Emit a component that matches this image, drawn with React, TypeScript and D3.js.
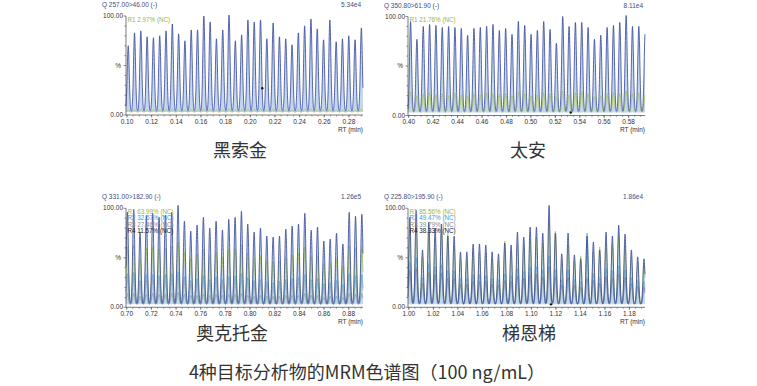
import * as d3 from 'd3';

const W = 757;
const H = 386;

// ---- data ----
// 黑索金 (RDX)
const rdxRange = [0.0992, 0.2914];
const rdxPeakStart = 0.101;
const rdxPeakStep = 0.00511;
const rdxQuant = [67, 80, 82, 76, 75, 77, 82, 89, 79, 72, 83, 83, 97, 91, 74, 83, 98, 72, 78, 93, 91, 93, 74, 90, 76, 74, 68, 80, 87, 94, 84, 73, 93, 71, 74, 77, 73, 85];
const rdxR1 = [2, 2, 3, 2, 2, 2, 3, 3, 2, 2, 3, 2, 3, 3, 2, 2, 3, 2, 2, 3, 3, 3, 2, 3, 2, 2, 2, 2, 3, 3, 2, 2, 3, 2, 2, 2, 2, 3];

// 太安 (PETN)
const petnRange = [0.3994, 0.5934];
const petnPeakStart = 0.4015;
const petnPeakStep = 0.00519;
const petnQuant = [92, 74, 87, 89, 88, 86, 87, 86, 85, 78, 85, 86, 87, 89, 83, 85, 79, 92, 88, 79, 83, 92, 84, 70, 97, 87, 91, 91, 86, 74, 78, 86, 88, 91, 98, 87, 87, 80];
const petnR1 = [21, 17, 19, 20, 18, 19, 17, 20, 18, 17, 19, 18, 20, 19, 18, 19, 17, 21, 19, 17, 18, 20, 19, 16, 22, 18, 20, 21, 19, 16, 17, 19, 20, 19, 22, 19, 20, 18];

// 奥克托金 (HMX)
const hmxRange = [0.6994, 0.8916];
const hmxPeakStart = 0.7005;
const hmxPeakStep = 0.00514;
const hmxQuant = [93, 96, 73, 90, 92, 88, 90, 93, 100, 84, 74, 80, 88, 77, 84, 75, 86, 88, 94, 81, 73, 77, 69, 68, 69, 76, 79, 81, 92, 75, 78, 64, 66, 72, 61, 93, 89, 91];
const hmxR1 = [58, 60, 46, 57, 58, 56, 57, 59, 63, 53, 47, 51, 56, 49, 53, 47, 55, 56, 60, 52, 46, 49, 44, 43, 44, 48, 50, 52, 58, 48, 49, 41, 42, 46, 39, 59, 57, 58];
const hmxR2 = [31, 32, 24, 30, 30, 29, 30, 31, 33, 28, 24, 26, 29, 25, 28, 25, 28, 29, 31, 27, 24, 25, 23, 22, 23, 25, 26, 27, 30, 25, 26, 21, 22, 24, 20, 31, 29, 30];
const hmxR3 = [25, 26, 20, 24, 25, 24, 24, 25, 27, 23, 20, 22, 24, 21, 23, 20, 23, 24, 25, 22, 20, 21, 19, 18, 19, 21, 21, 22, 25, 20, 21, 17, 18, 19, 16, 25, 24, 25];
const hmxR4 = [11, 11, 8, 10, 11, 10, 10, 11, 12, 10, 9, 9, 10, 9, 10, 9, 10, 10, 11, 9, 8, 9, 8, 8, 8, 9, 9, 9, 11, 9, 9, 7, 8, 8, 7, 11, 10, 11];

// 梯恩梯 (TNT)
const tntRange = [0.9993, 1.1927];
const tntPeakStart = 1.0008;
const tntPeakStep = 0.005165;
const tntQuant = [88, 95, 55, 83, 77, 81, 69, 69, 53, 53, 61, 61, 60, 53, 51, 62, 60, 73, 68, 78, 78, 72, 100, 72, 51, 72, 50, 46, 69, 63, 55, 73, 69, 80, 71, 55, 48, 46];
const tntR1 = [75, 80, 48, 72, 68, 78, 72, 60, 46, 45, 54, 52, 52, 46, 44, 64, 53, 62, 60, 66, 68, 62, 85, 74, 44, 60, 44, 49, 62, 54, 58, 62, 60, 70, 60, 48, 42, 40];
const tntR2 = [43, 47, 27, 41, 38, 40, 34, 34, 26, 26, 30, 30, 29, 26, 25, 31, 29, 36, 33, 38, 38, 35, 49, 35, 25, 35, 25, 23, 72, 31, 27, 36, 34, 39, 35, 27, 24, 23];
const tntR3 = [35, 38, 22, 33, 31, 32, 28, 28, 21, 21, 24, 24, 24, 21, 20, 25, 24, 29, 27, 31, 31, 29, 40, 29, 20, 29, 20, 18, 28, 25, 22, 29, 28, 32, 28, 22, 19, 18];
const tntR4 = [34, 36, 21, 32, 30, 31, 26, 26, 20, 20, 23, 23, 23, 20, 19, 24, 23, 28, 26, 30, 30, 27, 38, 27, 19, 27, 19, 17, 26, 24, 21, 28, 26, 30, 27, 21, 18, 17];

const mrmTitles = ['Q 257.00>46.00 (-)', 'Q 350.80>61.90 (-)', 'Q 331.00>182.90 (-)', 'Q 225.80>195.90 (-)'];
const intensities = ['5.34e4', '8.11e4', '1.26e5', '1.86e4'];
const ratioLabels = [
  ['R1 2.97% (NC)'],
  ['R1 21.76% (NC)'],
  ['R1 63.99% (NC)', 'R2 32.57% (NC)', 'R3 27.46% (NC)', 'R4 11.57% (NC)'],
  ['R1 85.56% (NC)', 'R2 49.47% (NC)', 'R3 39.79% (NC)', 'R4 38.33% (NC)'],
];
const compounds = ['黑索金', '太安', '奥克托金', '梯恩梯'];
const markers = [[0.2097, 27], [0.5326, 3], null, [1.116, 3]];
const chartTitle = '4种目标分析物的MRM色谱图（100 ng/mL）';

const panels = [
  { range: rdxRange, start: rdxPeakStart, step: rdxPeakStep, quant: rdxQuant, quals: [rdxR1] },
  { range: petnRange, start: petnPeakStart, step: petnPeakStep, quant: petnQuant, quals: [petnR1] },
  { range: hmxRange, start: hmxPeakStart, step: hmxPeakStep, quant: hmxQuant, quals: [hmxR1, hmxR2, hmxR3, hmxR4] },
  { range: tntRange, start: tntPeakStart, step: tntPeakStep, quant: tntQuant, quals: [tntR1, tntR2, tntR3, tntR4] },
];

// layout
const origins = [
  { x: 126, y: 16 },
  { x: 408, y: 16.5 },
  { x: 126, y: 208.3 },
  { x: 408, y: 208.3 },
];
const plotW = 237;
const plotH = 99;
const baseline = 3;

const navy = '#34449a';
const fillBlue = '#c3d8ee';
const qualColors = ['#a3bf3a', '#4aa2e6', '#a5a5a5', '#5a6070'];
const qualOpacity = [0.85, 0.85, 0.7, 0.45];
const labelColors = ['#97b53a', '#3c9be3', '#8a8a8a', '#222'];
const axisFont = '"Liberation Sans", Arial, sans-serif';
const cjkFont = '"Noto Sans CJK SC", "Noto Sans", sans-serif';

function trace(range: number[], start: number, step: number, heights: number[]) {
  const sigma = step * 0.16;
  const pts: [number, number][] = [];
  for (const t of d3.range(range[0], range[1], 0.00008)) {
    let v = baseline;
    heights.forEach((h, i) => {
      const dt = t - (start + i * step);
      if (Math.abs(dt) < sigma * 5) v += h * Math.exp(-(dt * dt) / (2 * sigma * sigma));
    });
    pts.push([t, v]);
  }
  return pts;
}

function Panel({ idx }: { idx: number }) {
  const p = panels[idx];
  const o = origins[idx];
  const x = d3.scaleLinear().domain(p.range).range([o.x, o.x + plotW]);
  const y = d3.scaleLinear().domain([0, 100]).range([o.y + plotH, o.y]);
  const line = d3.line<[number, number]>().x((d) => x(d[0])).y((d) => y(d[1]));
  const area = d3
    .area<[number, number]>()
    .x((d) => x(d[0]))
    .y0(y(baseline))
    .y1((d) => y(d[1]));
  const main = trace(p.range, p.start, p.step, p.quant);
  const quals = p.quals.map((q) => trace(p.range, p.start, p.step, q));

  const first = Math.ceil(p.range[0] * 100 - 1e-6) / 100;
  const major = d3.range(first, p.range[1], 0.02);
  const minor = d3.range(Math.ceil(p.range[0] * 200) / 200, p.range[1], 0.005);
  const yTicks = d3.range(0, 101, 10);
  const mk = markers[idx];

  return (
    <g>
      <text x={o.x - 24} y={o.y - 9} fontSize={6.5} fill="#3d4d85" fontFamily={axisFont}>
        {mrmTitles[idx]}
      </text>
      <text x={o.x + plotW - 2} y={o.y - 9} fontSize={6.5} fill="#3d4d85" fontFamily={axisFont} textAnchor="end">
        {intensities[idx]}
      </text>

      <path d={area(main) || ''} fill={fillBlue} />
      {quals.map((q, i) => (
        <path key={i} d={line(q) || ''} fill="none" stroke={qualColors[i]} strokeWidth={0.8} strokeOpacity={qualOpacity[i]} />
      ))}
      <path d={line(main) || ''} fill="none" stroke={navy} strokeWidth={0.8} />
      {mk && <circle cx={x(mk[0])} cy={y(mk[1])} r={1.2} fill="#111" />}

      {ratioLabels[idx].map((t, i) => (
        <text key={t} x={o.x + 1.5} y={o.y + 5.5 + i * 6.5} fontSize={6.3} fill={labelColors[i]} fontFamily={axisFont}>
          {t}
        </text>
      ))}

      {/* axes */}
      <line x1={o.x} x2={o.x} y1={o.y} y2={o.y + plotH} stroke="#444" strokeWidth={0.7} />
      <line x1={o.x} x2={o.x + plotW} y1={o.y + plotH} y2={o.y + plotH} stroke="#444" strokeWidth={0.7} />
      {yTicks.map((t) => (
        <line key={t} x1={o.x - (t % 50 === 0 ? 2.5 : 1.5)} x2={o.x} y1={y(t)} y2={y(t)} stroke="#444" strokeWidth={0.6} />
      ))}
      <text x={o.x - 3} y={y(100) + 2} fontSize={6.5} textAnchor="end" fill="#333" fontFamily={axisFont}>100.00</text>
      <text x={o.x - 5} y={y(50) + 2} fontSize={6.5} textAnchor="end" fill="#333" fontFamily={axisFont}>%</text>
      <text x={o.x - 3} y={y(0) + 2} fontSize={6.5} textAnchor="end" fill="#333" fontFamily={axisFont}>0.00</text>
      {minor.map((t) => (
        <line key={'m' + t} x1={x(t)} x2={x(t)} y1={o.y + plotH} y2={o.y + plotH + 1.5} stroke="#444" strokeWidth={0.5} />
      ))}
      {major.map((t) => (
        <g key={t}>
          <line x1={x(t)} x2={x(t)} y1={o.y + plotH} y2={o.y + plotH + 2.5} stroke="#444" strokeWidth={0.6} />
          <text x={x(t)} y={o.y + plotH + 8.5} fontSize={6.5} textAnchor="middle" fill="#333" fontFamily={axisFont}>
            {t.toFixed(2)}
          </text>
        </g>
      ))}
      <text x={o.x + plotW} y={o.y + plotH + 16.5} fontSize={6.5} textAnchor="end" fill="#333" fontFamily={axisFont}>
        RT (min)
      </text>
    </g>
  );
}

const captionPos = [
  { x: 240, y: 157 },
  { x: 528, y: 157 },
  { x: 232, y: 340 },
  { x: 529, y: 340 },
];

export default function App() {
  return (
    <svg width={W} height={H} style={{ position: 'absolute', left: 0, top: 0, background: '#fff' }}>
      <rect width={W} height={H} fill="#fff" />
      {panels.map((_, i) => (
        <Panel key={i} idx={i} />
      ))}
      {compounds.map((c, i) => (
        <text key={c} x={captionPos[i].x} y={captionPos[i].y} fontSize={18} textAnchor="middle" fill="#333" fontFamily={cjkFont}>
          {c}
        </text>
      ))}
      <text x={367} y={379} fontSize={18} textAnchor="middle" fill="#333" fontFamily={cjkFont}>
        {chartTitle}
      </text>
    </svg>
  );
}
